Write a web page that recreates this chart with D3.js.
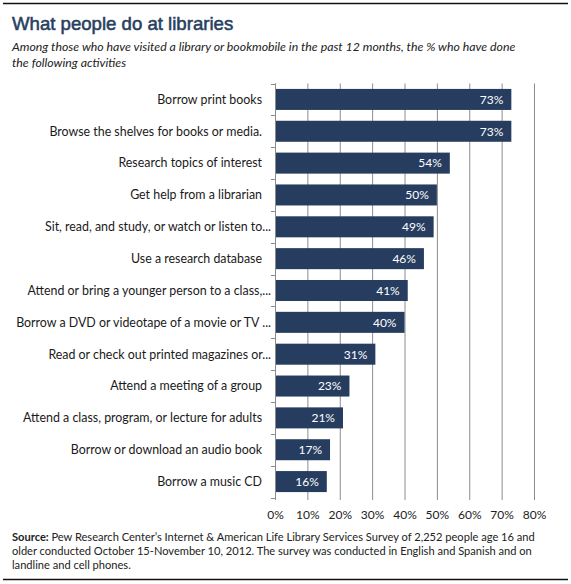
<!DOCTYPE html>
<html>
<head>
<meta charset="utf-8">
<script src="https://cdn.jsdelivr.net/npm/d3@7"></script>
<style>
  body { margin: 0; background: #fff; }
  text { font-family: Lato, "Open Sans", sans-serif; }
</style>
</head>
<body>
<svg width="571" height="584"></svg>
<script>
// Chart data
// ----------
var activities = [
  'Borrow print books',
  'Browse the shelves for books or media.',
  'Research topics of interest',
  'Get help from a librarian',
  'Sit, read, and study, or watch or listen to...',
  'Use a research database',
  'Attend or bring a younger person to a class,...',
  'Borrow a DVD or videotape of a movie or TV ...',
  'Read or check out printed magazines  or...',
  'Attend a meeting of a group',
  'Attend a class, program, or lecture for adults',
  'Borrow or download an audio book',
  'Borrow a music CD'
];
var shares = [73, 73, 54, 50, 49, 46, 41, 40, 31, 23, 21, 17, 16];
var xTicks = [0, 10, 20, 30, 40, 50, 60, 70, 80];

var title = 'What people do at libraries';
var subtitle = [
  'Among those who have visited a library or bookmobile in the past 12 months, the % who have done',
  'the following activities'
];
var source = [
  'Pew Research Center\u2019s Internet & American Life Library Services Survey of 2,252 people age 16 and',
  'older conducted  October 15-November 10, 2012. The survey was conducted in English and Spanish and on',
  'landline and cell phones.'
];

var rows = activities.map(function (a, i) { return {label: a, value: shares[i]}; });

var svg = d3.select('svg');
var navy = '#263d5f';

// frame lines
svg.append('line').attr('x1', 3).attr('x2', 568).attr('y1', 3.5).attr('y2', 3.5)
   .attr('stroke', '#111').attr('stroke-width', 1.5);
svg.append('line').attr('x1', 3).attr('x2', 568).attr('y1', 579.5).attr('y2', 579.5)
   .attr('stroke', '#111').attr('stroke-width', 1.5);

// title block
svg.append('text').attr('x', 12).attr('y', 29.5)
   .text(title)
   .style('font-family', '"Liberation Sans", Arial, sans-serif')
   .style('font-size', '18.6px')
   .attr('fill', '#27405f')
   .attr('stroke', '#27405f')
   .attr('stroke-width', 0.55);
svg.selectAll('text.sub').data(subtitle).enter().append('text')
   .attr('class', 'sub')
   .attr('x', 12)
   .attr('y', function (d, i) { return 51 + i * 16; })
   .text(function (d) { return d; })
   .style('font-size', '12.3px')
   .style('font-style', 'italic')
   .attr('fill', '#222');

// plot
var m = {left: 275, top: 83.5};
var x = d3.scaleLinear().domain([0, 80]).range([m.left, 534]);
var y = d3.scaleBand().domain(activities).range([m.top, 497.5]).paddingInner(0.34).paddingOuter(0.17);

// gridlines with small ticks under the plot
svg.append('g')
   .attr('transform', 'translate(0,' + 500 + ')')
   .call(d3.axisBottom(x).tickValues(xTicks).tickSize(-(500 - m.top)).tickSizeOuter(0)
         .tickFormat(function (d) { return d + '%'; }))
   .call(function (g) {
     g.select('.domain').remove();
     g.selectAll('.tick line').attr('stroke', '#8c8c8c');
     g.selectAll('.tick text').attr('y', 10).attr('fill', '#222')
      .style('font-size', '12px');
   });

// vertical axis with band-boundary ticks
var yAxis = svg.append('g');
yAxis.append('line')
   .attr('x1', m.left + 0.5).attr('x2', m.left + 0.5)
   .attr('y1', m.top).attr('y2', 500)
   .attr('stroke', '#8c8c8c');
yAxis.selectAll('line.sep').data(d3.range(activities.length + 1)).enter().append('line')
   .attr('class', 'sep')
   .attr('x1', m.left - 4).attr('x2', m.left)
   .attr('y1', function (i) { return Math.round(m.top + i * y.step()) + 0.5; })
   .attr('y2', function (i) { return Math.round(m.top + i * y.step()) + 0.5; })
   .attr('stroke', '#8c8c8c');

// bars
svg.selectAll('rect.bar').data(rows).enter().append('rect')
   .attr('class', 'bar')
   .attr('x', x(0) + 1)
   .attr('y', function (d) { return y(d.label); })
   .attr('width', function (d) { return x(d.value) - x(0) - 1; })
   .attr('height', y.bandwidth())
   .attr('fill', navy);

// category labels
svg.selectAll('text.cat').data(rows).enter().append('text')
   .attr('class', 'cat')
   .attr('x', function (d) { return /\.\.\.$/.test(d.label) ? m.left - 4 : m.left - 13; })
   .attr('y', function (d) { return y(d.label) + y.bandwidth() / 2; })
   .attr('dy', '0.35em')
   .attr('text-anchor', 'end')
   .text(function (d) { return d.label; })
   .style('font-size', '12.4px')
   .attr('fill', '#1a1a1a');

// value labels
svg.selectAll('text.val').data(rows).enter().append('text')
   .attr('class', 'val')
   .attr('x', function (d) { return x(d.value) - 8; })
   .attr('y', function (d) { return y(d.label) + y.bandwidth() / 2; })
   .attr('dy', '0.36em')
   .attr('text-anchor', 'end')
   .text(function (d) { return d.value + '%'; })
   .style('font-size', '12px')
   .attr('fill', '#fff');

// source note
var note = svg.selectAll('text.src').data(source).enter().append('text')
   .attr('class', 'src')
   .attr('x', 12)
   .attr('y', function (d, i) { return 541 + i * 14; })
   .style('font-size', '11.1px')
   .attr('fill', '#222');
note.filter(function (d, i) { return i === 0; })
   .append('tspan').style('font-weight', 'bold').text('Source: ');
note.append('tspan').text(function (d) { return d; });
</script>
</body>
</html>
